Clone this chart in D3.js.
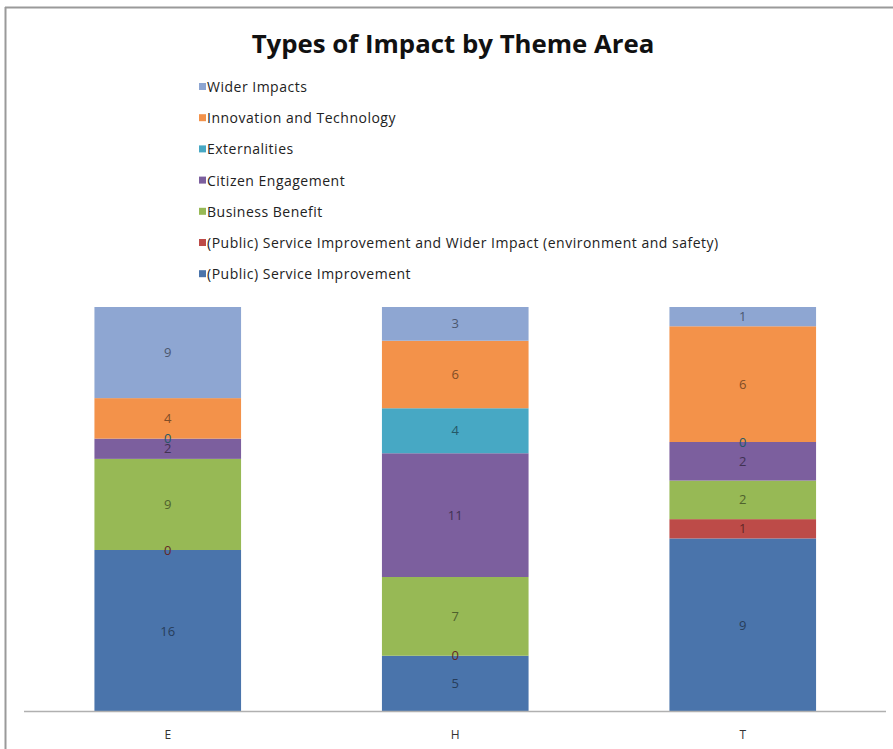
<!DOCTYPE html>
<html>
<head>
<meta charset="utf-8">
<script src="https://cdn.jsdelivr.net/npm/d3@7"></script>
<style>
  body { margin: 0; background: #fff; }
  .boundary { width: 893px; height: 749px; }
</style>
</head>
<body>
<div class="boundary"></div>
<script>
// categories (theme areas) and series values, bottom of stack first
var areas = ["E", "H", "T"];
var seriesNames = [
  "(Public) Service Improvement",
  "(Public) Service Improvement and Wider Impact (environment and safety)",
  "Business Benefit",
  "Citizen Engagement",
  "Externalities",
  "Innovation and Technology",
  "Wider Impacts"
];
var publicService   = [16, 5, 9];
var serviceAndWider = [0, 0, 1];
var businessBenefit = [9, 7, 2];
var citizenEngage   = [2, 11, 2];
var externalities   = [0, 4, 0];
var innovationTech  = [4, 6, 6];
var widerImpacts    = [9, 3, 1];

var seriesValues = [publicService, serviceAndWider, businessBenefit, citizenEngage,
                    externalities, innovationTech, widerImpacts];
var seriesColors = ["#4a74ab", "#bd4b48", "#97b955", "#7c5f9e", "#47a8c4", "#f3924a", "#8ea6d2"];

var width = 893, height = 749;
var svg = d3.select(".boundary").append("svg")
            .attr("width", width).attr("height", height)
            .style("background", "#fff");

// frame (left and top edges)
svg.append("line").attr("x1", 5.5).attr("x2", 5.5).attr("y1", 7).attr("y2", height)
   .attr("stroke", "#9a9a9a").attr("stroke-width", 2);
svg.append("line").attr("x1", 5).attr("x2", width).attr("y1", 7.5).attr("y2", 7.5)
   .attr("stroke", "#9a9a9a").attr("stroke-width", 2);

svg.append("text").text("Types of Impact by Theme Area")
   .attr("x", 453).attr("y", 53).attr("text-anchor", "middle")
   .style("font-family", "'Open Sans', sans-serif").style("font-weight", "bold")
   .style("font-size", "25.8px").attr("fill", "#111");

// one row per area
var rows = areas.map(function(a, i){
  var r = {area: a};
  seriesNames.forEach(function(s, j){ r[s] = seriesValues[j][i]; });
  return r;
});
var stacked = d3.stack().keys(seriesNames).offset(d3.stackOffsetExpand)(rows);

var x = d3.scaleBand().domain(areas).range([24, 886.5]).paddingInner(0.49).paddingOuter(0.245);
var y = d3.scaleLinear().domain([0, 1]).range([712, 307]);
var colors = d3.scaleOrdinal().domain(seriesNames).range(seriesColors);

var layers = svg.append("g").selectAll("g").data(stacked).enter().append("g")
                .attr("fill", function(d){ return colors(d.key); });
layers.selectAll("rect").data(function(d){ return d; }).enter().append("rect")
      .attr("x", function(d){ return x(d.data.area); })
      .attr("width", x.bandwidth())
      .attr("y", function(d){ return y(d[1]); })
      .attr("height", function(d){ return y(d[0]) - y(d[1]); });

// value labels
stacked.forEach(function(layer){
  var labelColor = d3.color(colors(layer.key)).darker(1.8);
  svg.append("g").selectAll("text").data(layer).enter().append("text")
     .attr("x", function(d){ return x(d.data.area) + x.bandwidth() / 2; })
     .attr("y", function(d){ return (y(d[0]) + y(d[1])) / 2 + 4.5; })
     .attr("text-anchor", "middle")
     .style("font-family", "'Open Sans', sans-serif").style("font-size", "13px")
     .attr("fill", labelColor)
     .text(function(d){ return d.data[layer.key]; });
});

// axis line and categories
svg.append("line").attr("x1", 24).attr("x2", 886).attr("y1", 711.5).attr("y2", 711.5)
   .attr("stroke", "#b0b0b0").attr("stroke-width", 1.5);
var xAxis = svg.append("g").attr("transform", "translate(0,712)")
               .call(d3.axisBottom(x).tickSize(0).tickPadding(18));
xAxis.select(".domain").remove();
xAxis.selectAll("text").style("font-family", "'Open Sans', sans-serif")
     .style("font-size", "12px").attr("fill", "#333");

// legend, top entry = last series
var legendData = seriesNames.slice().reverse();
var legend = svg.append("g").attr("transform", "translate(199,87)")
                .selectAll("g").data(legendData).enter().append("g")
                .attr("transform", function(d, i){ return "translate(0," + i * 31.2 + ")"; });
legend.append("rect").attr("x", 0).attr("y", -4).attr("width", 7).attr("height", 7)
      .attr("fill", function(d){ return colors(d); });
legend.append("text").attr("x", 8).attr("y", 5)
      .style("font-family", "'Open Sans', sans-serif").style("font-size", "14px")
      .style("letter-spacing", "0.5px")
      .attr("fill", "#222").text(function(d){ return d; });
</script>
</body>
</html>
